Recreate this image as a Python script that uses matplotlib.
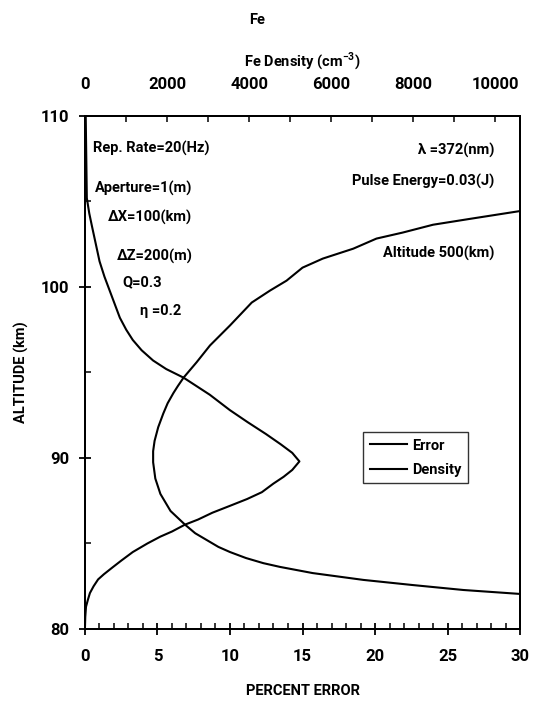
import matplotlib.pyplot as plt
from matplotlib.ticker import MultipleLocator

# error curve (percent error vs altitude)
err_alt = [104.44, 103.99, 103.64, 103.18, 102.83, 102.24, 101.66, 101.13, 100.37, 99.79,
           99.09, 97.75, 96.58, 95.6, 94.7, 94.2, 93.8, 93.2, 92.6, 91.8,
           91.0, 90.4, 89.75, 88.8, 87.9, 86.9, 86.1, 85.6, 85.2, 84.8,
           84.5, 84.15, 83.85, 83.63, 83.27, 82.87, 82.57, 82.28, 82.05]
err_pct = [30.0, 26.6, 24.0, 21.9, 20.1, 18.5, 16.4, 15.0, 13.9, 12.76,
           11.5, 10.0, 8.62, 7.7, 6.8, 6.4, 6.1, 5.7, 5.4, 5.05,
           4.8, 4.7, 4.7, 4.85, 5.2, 5.9, 6.9, 7.6, 8.4, 9.2,
           10.0, 11.1, 12.3, 13.45, 15.7, 19.2, 22.6, 26.1, 30.0]

# Fe density profile (cm^-3) vs altitude
den_alt = [110.0, 105.2, 104.3, 103.5, 102.5, 101.5, 100.6, 99.8, 99.0, 98.2,
           97.5, 96.9, 96.3, 95.7, 95.2, 94.7, 94.2, 93.7, 92.8, 92.1,
           91.4, 90.8, 90.3, 89.8, 89.3, 88.9, 88.5, 88.0, 87.6, 87.2,
           86.8, 86.4, 86.1, 85.7, 85.4, 85.0, 84.5, 84.0, 83.6, 83.2,
           82.9, 82.5, 82.1, 81.7, 81.3, 80.7, 80.1]
den_val = [18, 45, 105, 175, 265, 355, 475, 600, 725, 850,
           1005, 1165, 1380, 1660, 1980, 2400, 2720, 3040, 3530, 3960,
           4410, 4770, 5050, 5225, 5050, 4840, 4590, 4310, 3950, 3530,
           3105, 2755, 2435, 2120, 1835, 1520, 1165, 885, 670, 460,
           320, 210, 120, 70, 25, 7, 0]

font = "Roboto"
fs = 10.5
lw = 1.5

plt.rcParams["font.family"] = [font, "DejaVu Sans"]
plt.rcParams["mathtext.fontset"] = "custom"
plt.rcParams["mathtext.bf"] = font + ":bold"
plt.rcParams["mathtext.rm"] = font

f = plt.figure(figsize=(5.5, 7.02), dpi=100)
ax = f.add_axes([0.1545, 0.104, 0.791, 0.7308])
ax2 = ax.twiny()

l1, = ax.plot(err_pct, err_alt, color="black", linewidth=lw, label="Error")
l2, = ax2.plot(den_val, den_alt, color="black", linewidth=lw, label="Density")

ax.set_xlim(0, 30)
ax.set_ylim(80, 110)
ax2.set_xlim(0, 10600)

ax.xaxis.set_major_locator(MultipleLocator(5))
ax.xaxis.set_minor_locator(MultipleLocator(1))
ax.yaxis.set_major_locator(MultipleLocator(10))
ax.yaxis.set_minor_locator(MultipleLocator(5))
ax2.xaxis.set_major_locator(MultipleLocator(2000))
ax2.xaxis.set_minor_locator(MultipleLocator(1000))

ax.tick_params(axis="both", which="major", direction="inout", length=9, width=1.3,
               labelsize=12, pad=10)
ax.tick_params(axis="both", which="minor", direction="in", length=4, width=1.1)
ax.tick_params(axis="y", which="major", pad=7)
ax.tick_params(axis="x", which="both", top=False)
ax.tick_params(axis="y", which="both", right=False)
ax2.tick_params(axis="x", which="both", direction="in", length=4, width=1.1,
                labelsize=12, pad=17)

for a in (ax, ax2):
    for s in a.spines.values():
        s.set_linewidth(1.4)
    for t in a.get_xticklabels() + a.get_yticklabels():
        t.set_fontweight("bold")

ax.set_xlabel("PERCENT ERROR", fontsize=fs, fontweight="bold", labelpad=14)
ax.set_ylabel("ALTITUDE (km)", fontsize=fs, fontweight="bold", labelpad=8)
ax2.set_xlabel("Fe Density (cm$^{\\mathbf{-3}}$)", fontsize=fs, fontweight="bold", labelpad=8)
f.text(0.467, 0.971, "Fe", fontsize=fs, fontweight="bold", ha="center", va="center")

# parameter annotations (in axes fraction)
left_txt = [("Rep. Rate=20(Hz)", 0.018, 0.936),
            ("Aperture=1(m)", 0.023, 0.858),
            ("\u0394X=100(km)", 0.053, 0.803),
            ("\u0394Z=200(m)", 0.074, 0.727),
            ("Q=0.3", 0.087, 0.676),
            ("\u03b7 =0.2", 0.126, 0.619)]
for s, x, y in left_txt:
    ax.text(x, y, s, transform=ax.transAxes, fontsize=fs, fontweight="bold",
            ha="left", va="center")

right_txt = [("\u03bb =372(nm)", 0.932),
             ("Pulse Energy=0.03(J)", 0.873),
             ("Altitude 500(km)", 0.731)]
for s, y in right_txt:
    ax.text(0.940, y, s, transform=ax.transAxes, fontsize=fs, fontweight="bold",
            ha="right", va="center")

leg = ax.legend(handles=[l1, l2], loc="upper left", bbox_to_anchor=(0.66, 0.3846),
                bbox_transform=f.transFigure, fancybox=False, frameon=True,
                edgecolor="black", fontsize=fs, handlelength=2.6, handletextpad=0.3,
                borderpad=0.45, labelspacing=0.7, borderaxespad=0)
leg.get_frame().set_linewidth(1.0)
for t in leg.get_texts():
    t.set_fontweight("bold")

f.savefig("out.png", dpi=100)
